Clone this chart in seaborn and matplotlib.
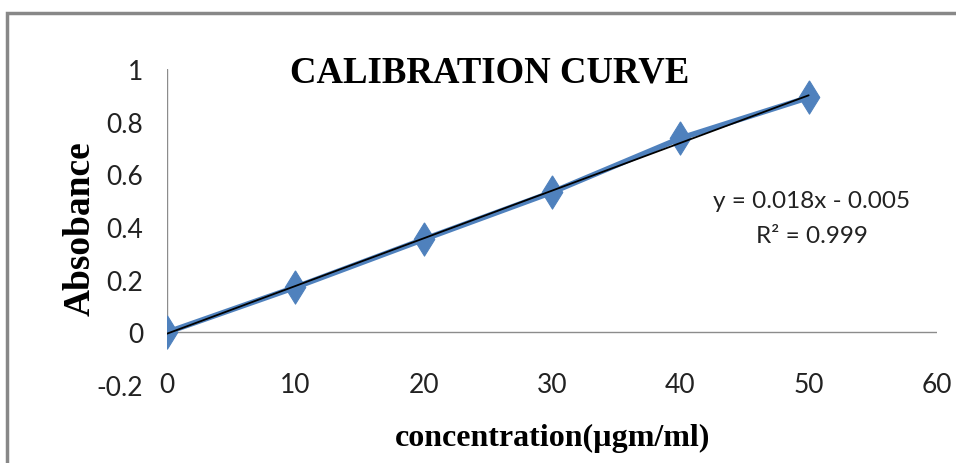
import matplotlib
matplotlib.use("Agg")
import matplotlib.pyplot as plt
import seaborn as sns
import pandas as pd
from matplotlib.patches import Rectangle

# data
concentration = [0, 10, 20, 30, 40, 50]
absorbance = [0.0, 0.171, 0.353, 0.532, 0.737, 0.892]
x_ticks = [0, 10, 20, 30, 40, 50, 60]
y_ticks = [-0.2, 0, 0.2, 0.4, 0.6, 0.8, 1]
y_tick_labels = ["-0.2", "0", "0.2", "0.4", "0.6", "0.8", "1"]
title = "CALIBRATION CURVE"
x_label = "concentration(\u00b5gm/ml)"
y_label = "Absobance"
equation = "y = 0.018x - 0.005\nR\u00b2 = 0.999"

df = pd.DataFrame({"conc": concentration, "abs": absorbance})

sns.set_theme(style="white")
plt.rcParams["font.family"] = ["Lato", "DejaVu Sans"]

fig = plt.figure(figsize=(9.56, 4.64), dpi=100)
ax = fig.add_axes([167/956, 1-386/464, (937-167)/956, (386-70)/464])

blue = "#4F81BD"
diamond = [(0, 1), (0.62, 0), (0, -1), (-0.62, 0), (0, 1)]
sns.lineplot(data=df, x="conc", y="abs", ax=ax, color=blue, linewidth=4,
             marker=diamond, markersize=24, markeredgecolor=blue,
             markerfacecolor=blue, zorder=3)
sns.regplot(data=df, x="conc", y="abs", ax=ax, scatter=False, ci=None,
            truncate=True, line_kws=dict(color="black", linewidth=1.3, zorder=4))

ax.set_xlim(0, 60)
ax.set_ylim(-0.2, 1)
for s in ax.spines.values():
    s.set_visible(False)
ax.axhline(0, color="#8c8c8c", linewidth=1, zorder=1)
ax.axvline(0, ymin=0.2/1.2, ymax=1, color="#8c8c8c", linewidth=1, zorder=1)

ax.set_xticks(x_ticks)
ax.set_xticklabels([str(t) for t in x_ticks])
ax.set_yticks(y_ticks)
ax.set_yticklabels(y_tick_labels)
ax.tick_params(axis="x", length=0, pad=-9.5, labelsize=19, colors="#222222")
ax.tick_params(axis="y", length=0, pad=17, labelsize=19, colors="#222222")
ax.set_xlabel("")
ax.set_ylabel("")

fig.text(490/956, 1-73/464, title, ha="center", va="center",
         fontsize=26.5, fontweight="bold", family="Liberation Serif", color="black")
fig.text(553/956, 1-438/464, x_label, ha="center", va="center",
         fontsize=23, fontweight="bold", family="Liberation Serif", color="black")
fig.text(80/956, 1-229/464, y_label, ha="center", va="center", rotation=90,
         fontsize=27, fontweight="bold", family="Liberation Serif", color="black")
fig.text(812/956, 1-219/464, equation, ha="center", va="center",
         fontsize=17.5, linespacing=1.85, color="#222222")

fig.patches.append(Rectangle((7/956, -0.1), 1.2, 1.1 - 14/464, transform=fig.transFigure,
                             fill=False, edgecolor="#888888", linewidth=2.5, clip_on=False))

fig.savefig("out.png", dpi=100)
